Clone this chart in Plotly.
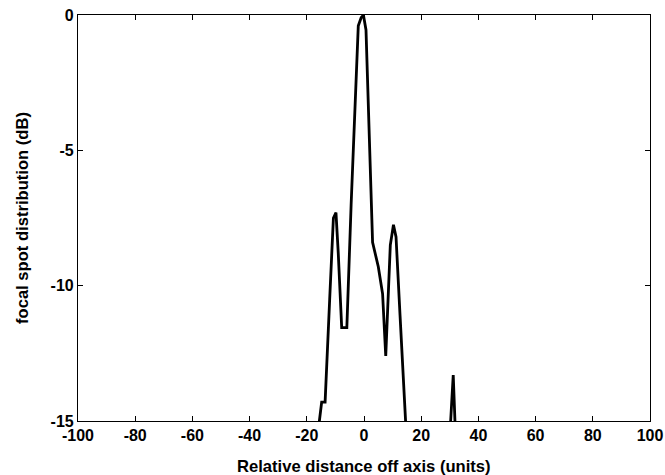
import plotly.graph_objects as go

# focal spot profile (values below -15 are clipped by the axis)
distance = [-17.0, -15.6, -14.8, -13.6, -12.0, -10.7, -9.8, -9.0, -7.8, -6.0,
            -4.5, -3.1, -2.0, -1.0, -0.2, 0.7, 1.5, 2.45, 3.0, 5.0,
            6.5, 7.6, 8.3, 9.2, 10.3, 11.2, 12.6, 14.0, 15.0,
            22.0, 30.3, 31.2, 31.8, 33.0]
level_db = [-17.0, -15.0, -14.3, -14.3, -10.5, -7.5, -7.3, -8.8, -11.55, -11.55,
            -7.0, -3.1, -0.4, -0.1, 0.0, -0.55, -3.1, -6.8, -8.4, -9.3,
            -10.3, -12.6, -11.0, -8.5, -7.75, -8.2, -11.1, -15.0, -18.0,
            -30.0, -15.0, -13.3, -15.0, -18.0]

x_ticks = [-100, -80, -60, -40, -20, 0, 20, 40, 60, 80, 100]
x_labels = ['-100', '-80', '-60', '-40', '-20', '0', '20', '40', '60', '80', '100']
y_ticks = [0, -5, -10, -15]
y_labels = ['0', '-5', '-10', '-15']

FONT = 'Liberation Sans, Arial, sans-serif'

fig = go.Figure()
fig.add_trace(go.Scatter(
    x=distance, y=level_db, mode='lines',
    line=dict(color='black', width=2.8), showlegend=False
))

tick_font = dict(family=FONT, size=16, color='black', weight='bold')
axis_common = dict(
    showline=True, linecolor='black', linewidth=1.2, mirror='ticks',
    ticks='inside', ticklen=5, tickcolor='black', showgrid=False,
    zeroline=False, tickfont=tick_font, automargin=False
)

fig.update_layout(
    width=665, height=475,
    margin=dict(l=78, r=15, t=15, b=54),
    paper_bgcolor='white', plot_bgcolor='white',
    xaxis=dict(range=[-100, 100], tickvals=x_ticks, ticktext=x_labels, **axis_common),
    yaxis=dict(range=[-15, 0], tickvals=y_ticks, ticktext=y_labels, **axis_common),
)

title_font = dict(family=FONT, size=16.6, color='black', weight='bold')
fig.add_annotation(text='Relative distance off axis (units)', xref='paper', yref='paper',
                   x=0.5, y=0, yshift=-45, showarrow=False, font=title_font,
                   xanchor='center', yanchor='middle')
fig.add_annotation(text='focal spot distribution (dB)', xref='paper', yref='paper',
                   x=0, y=0.5, xshift=-56, showarrow=False, font=title_font,
                   textangle=-90, xanchor='center', yanchor='middle')

# drop the page's default body margin so the figure sits at the top-left corner
fig.write_html("out.html", config={'displayModeBar': False},
               post_script="document.body.style.margin='0';")
